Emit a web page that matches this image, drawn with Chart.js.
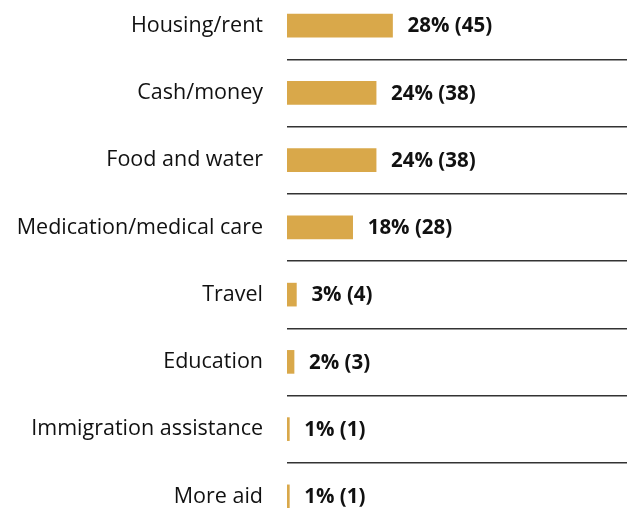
<!DOCTYPE html>
<html>
<head>
<meta charset="utf-8">
<script src="https://cdn.jsdelivr.net/npm/chart.js@4/dist/chart.umd.min.js"></script>
<style>
  html, body { margin: 0; padding: 0; background: #fff; overflow: hidden; width: 627px; height: 508px; }
  #wrap { position: absolute; left: 0; top: -8px; width: 627px; height: 538px; }
</style>
</head>
<body>
<div id="wrap"><canvas id="needsChart" width="627" height="538"></canvas></div>
<script>
// Needs reported (count and share of respondents)
const categories = [
    "Housing/rent", "Cash/money", "Food and water", "Medication/medical care",
    "Travel", "Education", "Immigration assistance", "More aid"
];
const counts = [45, 38, 38, 28, 4, 3, 1, 1];
const percents = [28, 24, 24, 18, 3, 2, 1, 1];

// draws "28% (45)" to the right of each bar
const valueLabels = {
    id: 'valueLabels',
    afterDatasetsDraw(chart) {
        const ctx = chart.ctx;
        const meta = chart.getDatasetMeta(0);
        ctx.save();
        ctx.font = 'bold 20.5px "Open Sans"';
        ctx.fillStyle = '#111';
        ctx.textAlign = 'left';
        ctx.textBaseline = 'middle';
        meta.data.forEach(function (bar, i) {
            ctx.fillText(percents[i] + '% (' + counts[i] + ')', bar.x + 15, bar.y + 1);
        });
        ctx.restore();
    }
};

var ctx = document.getElementById('needsChart').getContext('2d');
var needsChart = new Chart(ctx, {
    type: 'bar',
    data: {
        labels: categories,
        datasets: [{
            data: counts,
            backgroundColor: '#D9A84A',
            barThickness: 23
        }]
    },
    options: {
        indexAxis: 'y',
        responsive: false,
        animation: false,
        layout: { padding: 0 },
        plugins: {
            legend: { display: false },
            tooltip: { enabled: false }
        },
        scales: {
            x: {
                display: false,
                min: 0,
                max: 145
            },
            y: {
                afterFit: function (scale) {
                    scale.width = 287;
                    // no extra room above/below for the tick labels
                    scale.paddingTop = 0;
                    scale.paddingBottom = 0;
                },
                border: { display: false },
                grid: {
                    offset: true,
                    drawTicks: false,
                    color: '#333',
                    lineWidth: 1.5
                },
                ticks: {
                    padding: 24,
                    color: '#111',
                    font: { family: 'Open Sans', size: 21.5 }
                }
            }
        }
    },
    plugins: [valueLabels]
});
</script>
</body>
</html>
